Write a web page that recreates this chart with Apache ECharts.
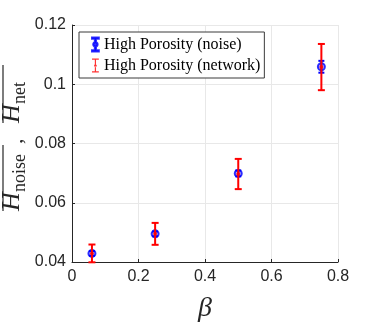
<!DOCTYPE html>
<html>
<head>
<meta charset="utf-8">
<script src="https://cdn.jsdelivr.net/npm/echarts@6/dist/echarts.min.js"></script>
<style>
  html, body { margin: 0; padding: 0; background: #fff; }
  #chart { width: 374px; height: 332px; }
</style>
</head>
<body>
<div id="chart"></div>
<script>
// beta values and the two estimates with their error bars
const beta = [0.06, 0.25, 0.5, 0.75];
const noiseMean = [0.0429, 0.0495, 0.0699, 0.1059];
const noiseErr = [0.0008, 0.0008, 0.0010, 0.0020];
const netMean = [0.0429, 0.0495, 0.0697, 0.1058];
const netErr = [0.0030, 0.0037, 0.0051, 0.0078];
const xTicks = [0, 0.2, 0.4, 0.6, 0.8];
const yTicks = [0.04, 0.06, 0.08, 0.1, 0.12];

const chart = echarts.init(document.getElementById('chart'));

// I-beam icons for the legend
const iconNoise = 'path://M0,0h8v1.4h-3.3v4.1a2.6,2.6 0 1 1 -1.4,0v-4.1h-3.3z M3.3,10.9v4.1h-3.3v1.4h8v-1.4h-3.3v-4.1a2.6,2.6 0 0 1 -1.4,0z';
const iconNet = 'path://M0,0h8v1.4h-3.3v5.6a1.6,1.6 0 1 1 -1.4,0v-5.6h-3.3z M3.3,9.4v5.6h-3.3v1.4h8v-1.4h-3.3v-5.6a1.6,1.6 0 0 1 -1.4,0z';

function errData(mean, err) {
  return beta.map((b, i) => [b, mean[i] - err[i], mean[i] + err[i]]);
}

function errRender(color, hw) {
  return function (params, api) {
    const x = api.value(0);
    const lo = api.coord([x, api.value(1)]);
    const hi = api.coord([x, api.value(2)]);
    const st = { stroke: color, lineWidth: 2 };
    return {
      type: 'group',
      children: [
        { type: 'line', shape: { x1: hi[0], y1: hi[1], x2: lo[0], y2: lo[1] }, style: st },
        { type: 'line', shape: { x1: hi[0] - hw, y1: hi[1], x2: hi[0] + hw, y2: hi[1] }, style: st },
        { type: 'line', shape: { x1: lo[0] - hw, y1: lo[1], x2: lo[0] + hw, y2: lo[1] }, style: st }
      ]
    };
  };
}

const axisColor = '#262626';
const option = {
  animation: false,
  grid: { left: 72, right: 36, top: 25, bottom: 70 },
  legend: {
    orient: 'vertical',
    left: 79,
    top: 32,
    padding: [4, 4, 4, 12],
    itemGap: 4,
    itemWidth: 7,
    itemHeight: 14,
    itemTextGap: 11,
    borderColor: '#3a3a3a',
    borderWidth: 1,
    borderRadius: 0,
    backgroundColor: '#fff',
    textStyle: { fontFamily: 'Liberation Serif', fontSize: 16, color: '#000', lineHeight: 17 },
    data: [
      { name: 'High Porosity (noise)', icon: iconNoise, itemStyle: { color: 'blue' } },
      { name: 'High Porosity (network)', icon: iconNet, itemStyle: { color: 'red' } }
    ]
  },
  xAxis: {
    type: 'value',
    min: 0, max: 0.8, interval: 0.2,
    name: 'β',
    nameLocation: 'middle',
    nameGap: 33,
    nameTextStyle: { fontFamily: 'Liberation Serif', fontStyle: 'italic', fontSize: 28, color: '#262626' },
    axisLine: { show: true, lineStyle: { color: axisColor, width: 1 } },
    axisTick: { show: true, inside: true, length: 3, lineStyle: { color: axisColor } },
    axisLabel: {
      fontFamily: 'Liberation Sans', fontSize: 16, color: '#262626', margin: 7,
      formatter: v => (xTicks.indexOf(v) >= 0 ? String(v) : '')
    },
    splitLine: { show: true, lineStyle: { color: '#e8e8e8', width: 1 } }
  },
  yAxis: {
    type: 'value',
    min: 0.04, max: 0.12, interval: 0.02,
    axisLine: { show: true, lineStyle: { color: axisColor, width: 1 } },
    axisTick: { show: true, inside: true, length: 3, lineStyle: { color: axisColor } },
    axisLabel: {
      fontFamily: 'Liberation Sans', fontSize: 16, color: '#262626', margin: 6,
      formatter: v => {
        const t = yTicks.find(k => Math.abs(k - v) < 1e-9);
        return t === undefined ? '' : String(t);
      }
    },
    splitLine: { show: true, lineStyle: { color: '#e8e8e8', width: 1 } }
  },
  graphic: [{
    type: 'group',
    x: 25,
    y: 137,
    rotation: Math.PI / 2,
    silent: true,
    children: [
      { type: 'text', x: -74, y: 0, style: { text: 'H', fontFamily: 'Liberation Serif', fontStyle: 'italic', fontSize: 26, fill: '#262626', verticalAlign: 'bottom' } },
      { type: 'text', x: -55, y: 4, style: { text: 'noise', fontFamily: 'Liberation Serif', fontSize: 18, fill: '#262626', verticalAlign: 'bottom' } },
      { type: 'line', shape: { x1: -74, y1: -22, x2: -8, y2: -22 }, style: { stroke: '#262626', lineWidth: 1.2 } },
      { type: 'text', x: -7, y: 2, style: { text: ',', fontFamily: 'Liberation Serif', fontSize: 22, fill: '#262626', verticalAlign: 'bottom' } },
      { type: 'text', x: 14, y: 0, style: { text: 'H', fontFamily: 'Liberation Serif', fontStyle: 'italic', fontSize: 26, fill: '#262626', verticalAlign: 'bottom' } },
      { type: 'text', x: 33, y: 4, style: { text: 'net', fontFamily: 'Liberation Serif', fontSize: 18, fill: '#262626', verticalAlign: 'bottom' } },
      { type: 'line', shape: { x1: 14, y1: -22, x2: 72, y2: -22 }, style: { stroke: '#262626', lineWidth: 1.2 } }
    ]
  }],
  series: [
    {
      name: 'noiseErr',
      type: 'custom',
      renderItem: errRender('blue', 3),
      data: errData(noiseMean, noiseErr),
      encode: { x: 0, y: [1, 2] },
      clip: false,
      z: 2
    },
    {
      name: 'High Porosity (noise)',
      type: 'scatter',
      symbol: 'circle',
      symbolSize: 7,
      itemStyle: { color: 'rgba(0,0,255,0.35)', borderColor: 'blue', borderWidth: 2 },
      data: beta.map((b, i) => [b, noiseMean[i]]),
      z: 3
    },
    {
      name: 'netErr',
      type: 'custom',
      renderItem: errRender('red', 3.5),
      data: errData(netMean, netErr),
      encode: { x: 0, y: [1, 2] },
      clip: false,
      z: 4
    },
    {
      name: 'High Porosity (network)',
      type: 'scatter',
      symbol: 'circle',
      symbolSize: 4,
      itemStyle: { color: 'red' },
      data: beta.map((b, i) => [b, netMean[i]]),
      z: 5
    }
  ]
};

chart.setOption(option);
</script>
</body>
</html>
